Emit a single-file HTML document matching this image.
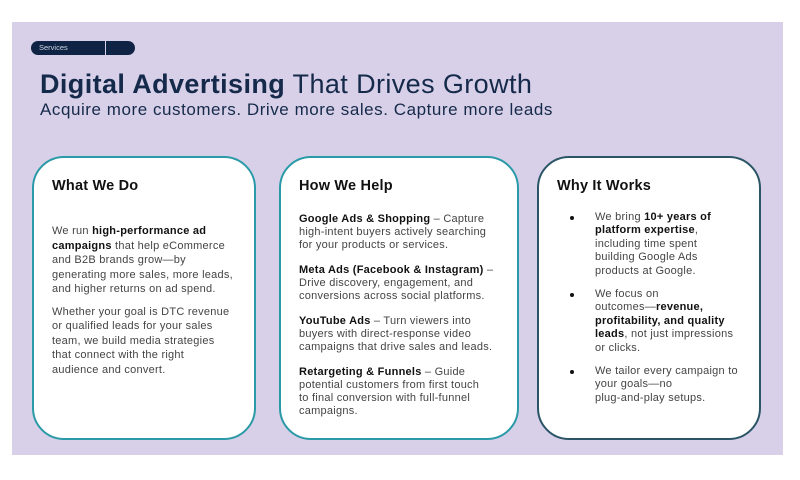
<!DOCTYPE html>
<html><head><meta charset="utf-8"><style>
*{margin:0;padding:0;box-sizing:border-box}
body{width:800px;height:480px;background:#fff;position:relative;overflow:hidden;font-family:"Liberation Sans",sans-serif;color:#1a1a1a}
.bg{position:absolute;left:12px;top:22px;width:771px;height:433px;background:#d8d0e8}
.pill{position:absolute;left:31px;top:41px;width:104px;height:14px;background:#0f2444;border-radius:7px;color:#cfd6e4;font-size:7.5px;line-height:14px;padding-left:8px}
.pill i{position:absolute;left:74px;top:0px;width:1px;height:14px;background:#d8d0e8}
h1{position:absolute;left:40px;top:69px;font-size:27px;font-weight:normal;color:#152a4a;white-space:nowrap;letter-spacing:0.4px}
h1 b{font-weight:bold}
.sub{position:absolute;left:40px;top:100px;font-size:17px;color:#152a4a;white-space:nowrap;letter-spacing:0.55px}
.card{position:absolute;top:156px;height:284px;background:#fff;border:2px solid #2a9aa8;border-radius:32px}
.card h2{position:absolute;top:20px;font-size:14.5px;font-weight:bold;color:#111;letter-spacing:0.2px}
.t{position:absolute;font-size:11px;color:#444;line-height:14.5px;white-space:nowrap;letter-spacing:0.25px}
.t b{color:#111}
.t p{margin-bottom:8px}
.c2 .t{line-height:13px}
.c2 .t p{margin-bottom:12px}
.c3{border-color:#2b5566}
.c3 ul{list-style:none}
.c3 li{position:relative;margin-bottom:10px;line-height:13.4px}
.c3 li:before{content:"";position:absolute;left:-25px;top:5px;width:4px;height:4px;border-radius:50%;background:#111}
</style></head><body>
<div class="bg"></div>
<div class="pill">Services<i></i></div>
<h1><b>Digital Advertising</b> That Drives Growth</h1>
<div class="sub">Acquire more customers. Drive more sales. Capture more leads</div>

<div class="card" style="left:32px;width:224px">
<h2 style="left:18px">What We Do</h2>
<div class="t" style="left:18px;top:66px">
<p>We run <b>high-performance ad<br>campaigns</b> that help eCommerce<br>and B2B brands grow—by<br>generating more sales, more leads,<br>and higher returns on ad spend.</p>
<p>Whether your goal is DTC revenue<br>or qualified leads for your sales<br>team, we build media strategies<br>that connect with the right<br>audience and convert.</p>
</div></div>

<div class="card c2" style="left:279px;width:240px">
<h2 style="left:18px">How We Help</h2>
<div class="t" style="left:18px;top:55px">
<p><b>Google Ads &amp; Shopping</b> – Capture<br>high-intent buyers actively searching<br>for your products or services.</p>
<p><b>Meta Ads (Facebook &amp; Instagram)</b> –<br>Drive discovery, engagement, and<br>conversions across social platforms.</p>
<p><b>YouTube Ads</b> – Turn viewers into<br>buyers with direct-response video<br>campaigns that drive sales and leads.</p>
<p><b>Retargeting &amp; Funnels</b> – Guide<br>potential customers from first touch<br>to final conversion with full-funnel<br>campaigns.</p>
</div></div>

<div class="card c3" style="left:537px;width:224px">
<h2 style="left:18px">Why It Works</h2>
<div class="t" style="left:56px;top:53px">
<ul>
<li>We bring <b>10+ years of<br>platform expertise</b>,<br>including time spent<br>building Google Ads<br>products at Google.</li>
<li>We focus on<br>outcomes—<b>revenue,<br>profitability, and quality<br>leads</b>, not just impressions<br>or clicks.</li>
<li>We tailor every campaign to<br>your goals—no<br>plug-and-play setups.</li>
</ul>
</div></div>
</body></html>
